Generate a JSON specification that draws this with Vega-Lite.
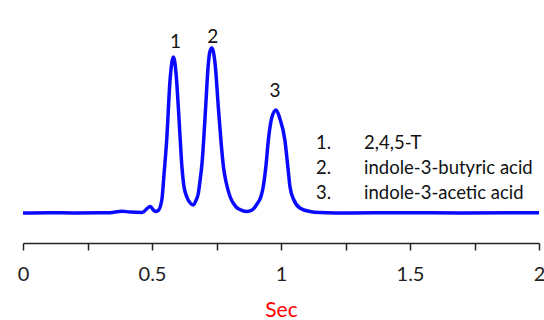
{
  "$schema": "https://vega.github.io/schema/vega-lite/v6.json",
  "width": 516,
  "height": 223,
  "autosize": {"type": "none"},
  "padding": {"left": 23, "top": 20, "right": 5, "bottom": 77},
  "background": "white",
  "config": {"view": {"stroke": null}, "font": "Lato"},
  "datasets": {
    "trace": [
      {"t": 0.0, "h": 0}, {"t": 0.1, "h": 0.3}, {"t": 0.2, "h": 0}, {"t": 0.299, "h": 0.2},
      {"t": 0.346, "h": 0.6}, {"t": 0.383, "h": 1.8}, {"t": 0.415, "h": 1.0}, {"t": 0.462, "h": 0.6},
      {"t": 0.493, "h": 6.5}, {"t": 0.512, "h": 1.5}, {"t": 0.524, "h": 2.5}, {"t": 0.538, "h": 13},
      {"t": 0.547, "h": 40}, {"t": 0.557, "h": 73}, {"t": 0.570, "h": 133}, {"t": 0.583, "h": 156},
      {"t": 0.593, "h": 140}, {"t": 0.602, "h": 106}, {"t": 0.609, "h": 75}, {"t": 0.616, "h": 46},
      {"t": 0.623, "h": 28}, {"t": 0.635, "h": 16}, {"t": 0.648, "h": 10}, {"t": 0.660, "h": 8},
      {"t": 0.671, "h": 13}, {"t": 0.679, "h": 19}, {"t": 0.686, "h": 32}, {"t": 0.694, "h": 50},
      {"t": 0.702, "h": 80}, {"t": 0.710, "h": 115}, {"t": 0.717, "h": 145}, {"t": 0.725, "h": 162},
      {"t": 0.732, "h": 165}, {"t": 0.745, "h": 148}, {"t": 0.757, "h": 106}, {"t": 0.768, "h": 70},
      {"t": 0.777, "h": 46}, {"t": 0.788, "h": 30}, {"t": 0.803, "h": 16}, {"t": 0.826, "h": 6},
      {"t": 0.849, "h": 2.5}, {"t": 0.867, "h": 1.5}, {"t": 0.888, "h": 3}, {"t": 0.907, "h": 9},
      {"t": 0.923, "h": 17}, {"t": 0.931, "h": 26}, {"t": 0.942, "h": 48}, {"t": 0.951, "h": 73},
      {"t": 0.965, "h": 96}, {"t": 0.981, "h": 103}, {"t": 0.996, "h": 94}, {"t": 1.015, "h": 73},
      {"t": 1.027, "h": 45}, {"t": 1.035, "h": 26}, {"t": 1.050, "h": 13}, {"t": 1.073, "h": 5},
      {"t": 1.112, "h": 1.5}, {"t": 1.151, "h": 0.5}, {"t": 1.267, "h": 0}, {"t": 1.461, "h": 0.3},
      {"t": 1.7, "h": 0}, {"t": 2.0, "h": 0.3}
    ],
    "peaks": [
      {"t": 0.591, "h": 171, "label": "1"},
      {"t": 0.736, "h": 176, "label": "2"},
      {"t": 0.977, "h": 122, "label": "3"}
    ],
    "legend": [
      {"t": 1.136, "t2": 1.322, "h": 70, "num": "1.", "name": "2,4,5-T"},
      {"t": 1.136, "t2": 1.322, "h": 45, "num": "2.", "name": "indole-3-butyric acid"},
      {"t": 1.136, "t2": 1.322, "h": 20, "num": "3.", "name": "indole-3-acetic acid"}
    ]
  },
  "layer": [
    {
      "data": {"name": "trace"},
      "mark": {"type": "line", "color": "#0a0aff", "strokeWidth": 3.5, "interpolate": "monotone"},
      "encoding": {
        "x": {
          "field": "t", "type": "quantitative",
          "scale": {"domain": [0, 2], "nice": false, "zero": false},
          "axis": {
            "values": [0, 0.25, 0.5, 0.75, 1, 1.25, 1.5, 1.75, 2],
            "labelExpr": "datum.value % 0.5 == 0 ? format(datum.value, '~g') : ''",
            "grid": false,
            "domainColor": "#222222", "domainWidth": 1.5,
            "tickColor": "#222222", "tickWidth": 1.5, "tickSize": 7,
            "labelFont": "Lato", "labelFontSize": 20, "labelColor": "#222222",
            "labelPadding": 14, "labelFlush": false, "labelOverlap": false,
            "title": "Sec", "titleColor": "#ff0000", "titleFont": "Lato",
            "titleFontSize": 21, "titleFontWeight": "normal", "titlePadding": 15
          }
        },
        "y": {
          "field": "h", "type": "quantitative",
          "scale": {"domain": [-30, 193], "nice": false, "zero": false},
          "axis": null
        }
      }
    },
    {
      "data": {"name": "peaks"},
      "mark": {"type": "text", "fontSize": 19, "color": "#111111", "baseline": "middle", "align": "center", "font": "Lato"},
      "encoding": {
        "x": {"field": "t", "type": "quantitative"},
        "y": {"field": "h", "type": "quantitative"},
        "text": {"field": "label"}
      }
    },
    {
      "data": {"name": "legend"},
      "mark": {"type": "text", "fontSize": 18.5, "color": "#111111", "baseline": "middle", "align": "left", "font": "Lato"},
      "encoding": {
        "x": {"field": "t", "type": "quantitative"},
        "y": {"field": "h", "type": "quantitative"},
        "text": {"field": "num"}
      }
    },
    {
      "data": {"name": "legend"},
      "mark": {"type": "text", "fontSize": 18.5, "color": "#111111", "baseline": "middle", "align": "left", "font": "Lato"},
      "encoding": {
        "x": {"field": "t2", "type": "quantitative"},
        "y": {"field": "h", "type": "quantitative"},
        "text": {"field": "name"}
      }
    }
  ]
}
